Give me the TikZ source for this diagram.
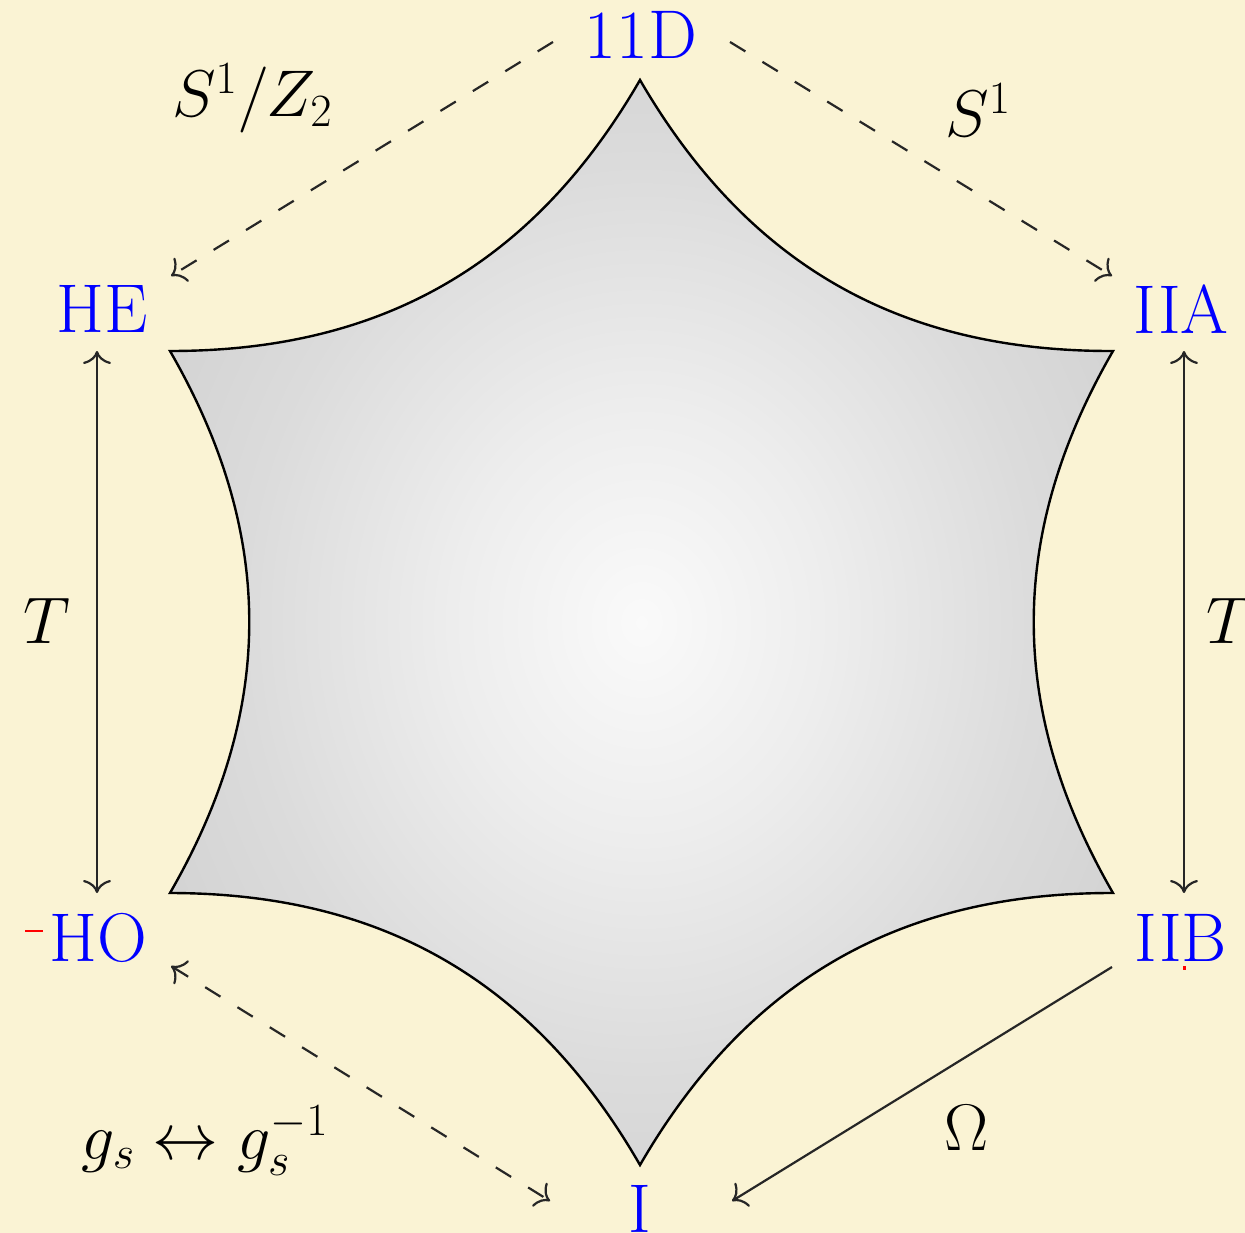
\RequirePackage{fix-cm}
\documentclass[tikz,border=0pt]{standalone}
\usetikzlibrary{arrows.meta}
\definecolor{paper}{RGB}{250,243,212}
\definecolor{lbl}{RGB}{0,0,255}
\pgfdeclareradialshading{starshade}{\pgfpoint{0bp}{0bp}}{%
  color(0bp)=(black!2); color(10bp)=(black!7); color(21bp)=(black!14);
  color(30bp)=(black!18); color(50bp)=(black!19)}
\begin{document}
\begin{tikzpicture}[x=1pt,y=-1pt,
  every node/.style={font=\fontsize{66}{72}\selectfont, inner sep=0pt},
  theory/.style={text=lbl, font=\fontsize{69}{74}\selectfont},
  conn/.style={line width=2.2pt, draw=black!85},
  dashconn/.style={conn, dash pattern=on 18pt off 20pt},
  >={To[length=13pt,width=28pt]}]
\useasboundingbox (0,0) rectangle (1245,1233);
\fill[paper] (0,0) rectangle (1245,1233);
% star vertices
\coordinate (v1) at (640,80);
\coordinate (v2) at (170,351);
\coordinate (v3) at (170,893);
\coordinate (v4) at (640,1165);
\coordinate (v5) at (1113,893);
\coordinate (v6) at (1113,351);
\draw[line width=2.4pt, shading=starshade]
  (v1) to[bend left=30] (v2) to[bend left=30] (v3) to[bend left=30] (v4)
  to[bend left=30] (v5) to[bend left=30] (v6) to[bend left=30] (v1) -- cycle;
% theory labels
\node[theory] (d11) at (641,35) {11D};
\node[theory] (he) at (102,309) {HE};
\node[theory] (iia) at (1181,309) {IIA};
\node[theory] (ho) at (98,938) {HO};
\node[theory] (iib) at (1181,938) {IIB};
\node[theory] (ti) at (640,1209) {I};
% connector end points
\coordinate (a1) at (553,42);   \coordinate (a2) at (171,276);
\coordinate (b1) at (730,42);   \coordinate (b2) at (1112,276);
\coordinate (c1) at (97,351);   \coordinate (c2) at (97,893);
\coordinate (e1) at (1184,351); \coordinate (e2) at (1184,893);
\coordinate (f1) at (171,966);  \coordinate (f2) at (550,1201);
\coordinate (g1) at (1112,967); \coordinate (g2) at (732,1201);
\draw[dashconn,->] (a1) -- (a2);
\draw[dashconn,->] (b1) -- (b2);
\draw[conn,<->] (c1) -- (c2);
\draw[conn,<->] (e1) -- (e2);
\draw[dashconn,<->] (f1) -- (f2);
\draw[conn,->] (g1) -- (g2);
% operation labels
\node[anchor=base] (l1) at (252,117) {$S^1/Z_2$};
\node[anchor=base] (l2) at (978,137) {$S^1$};
\node[anchor=base] (l3) at (47,643) {$T$};
\node[anchor=base] (l4) at (1230,643) {$T$};
\node[anchor=base] (l5) at (205,1159) {$g_s \leftrightarrow g_s^{-1}$};
\node[anchor=base] (l6) at (967,1150) {$\Omega$};
% small red marks
\coordinate (r1) at (25,931); \coordinate (r2) at (43,931);
\draw[red, line width=2pt] (r1) -- (r2);
\fill[red] (1183,966) rectangle (1186,970);
\end{tikzpicture}
\end{document}
